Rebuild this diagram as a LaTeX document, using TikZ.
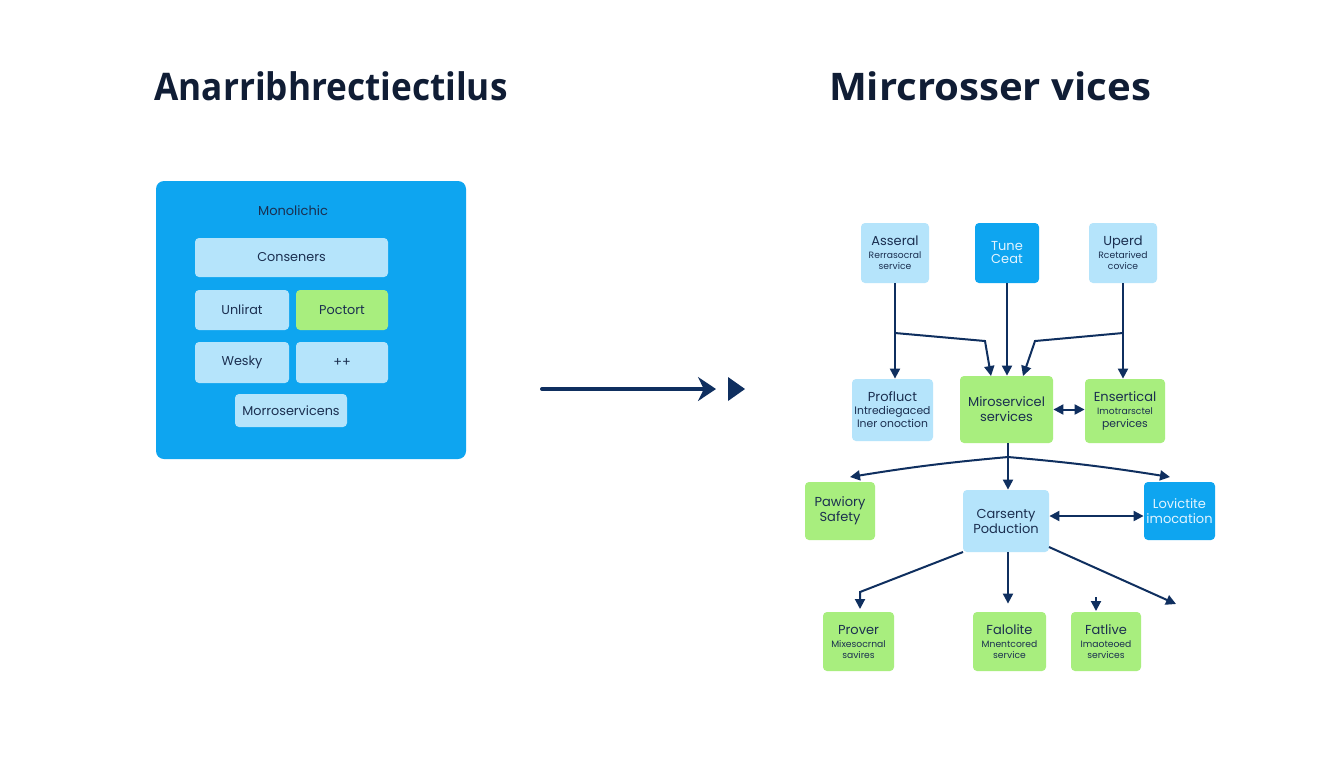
\documentclass[tikz,border=0pt]{standalone}
\usepackage{fontspec}
\setmainfont{Poppins}
\newfontfamily\titlefont{Open Sans}
\usetikzlibrary{arrows.meta}
\definecolor{bigblue}{HTML}{0EA5F0}
\definecolor{lightblue}{HTML}{B5E4FB}
\definecolor{lgreen}{HTML}{A8EE7E}
\definecolor{navy}{HTML}{0F2F5F}
\definecolor{txtdark}{HTML}{1B2F50}
\definecolor{titlecol}{HTML}{101D35}
\definecolor{paletxt}{HTML}{E2F4FF}
\newcommand\smtxt{\fontsize{4.6}{5.6}\selectfont}
\newcommand\mdtxt{\fontsize{5.4}{6.4}\selectfont}
\newcommand\lgtxt{\fontsize{6.4}{7.4}\selectfont}
\tikzset{
  boxbase/.style={rounded corners=2pt, inner sep=0pt, align=center, text=txtdark, font=\fontsize{6.5}{7.5}\selectfont},
  lbbox/.style={boxbase, fill=lightblue},
  grbox/.style={boxbase, fill=lgreen},
  bbbox/.style={boxbase, fill=bigblue, text=paletxt},
  conn/.style={draw=navy, line width=1pt, -{Triangle[width=5pt,length=5pt]}},
  dconn/.style={draw=navy, line width=1pt, {Triangle[width=5pt,length=5pt]}-{Triangle[width=5pt,length=5pt]}},
  plain/.style={draw=navy, line width=1pt},
  titletxt/.style={font=\titlefont\bfseries\fontsize{19}{22}\selectfont, text=titlecol, inner sep=0pt}
}
\begin{document}
\begin{tikzpicture}[x=0.5pt,y=-0.5pt]
\useasboundingbox[fill=white] (0,0) rectangle (1344,768);
% titles
\node[titletxt] (t1) at (331,86) {\scalebox{0.926}[1]{Anarribhrectiectilus}};
\node[titletxt] (t2) at (990,86) {\scalebox{1.056}[1]{Mircrosser vices}};
% left monolith
\node[fill=bigblue, rounded corners=4pt, minimum width=155pt, minimum height=139pt, inner sep=0pt] (big) at (311,320) {};
\node[text=txtdark, font=\fontsize{6.5}{7.5}\selectfont, inner sep=0pt] (mono) at (293,211) {Monolichic};
\node[lbbox, minimum width=96.5pt, minimum height=19.5pt] (cons) at (291.5,257.5) {\lgtxt Conseners};
\node[lbbox, minimum width=47pt, minimum height=20pt] (unl) at (242,310) {\lgtxt Unlirat};
\node[grbox, minimum width=46pt, minimum height=20pt] (poc) at (342,310) {\lgtxt Poctort};
\node[lbbox, minimum width=47pt, minimum height=20.5pt] (wes) at (242,362.5) {\lgtxt Wesky};
\node[lbbox, minimum width=46pt, minimum height=20.5pt] (pp) at (342,362.5) {\lgtxt ++};
\node[lbbox, minimum width=56pt, minimum height=16.5pt] (mor) at (291,410.5) {\lgtxt Morroservicens};
% big arrow
\coordinate (a1) at (542,389);
\coordinate (a2) at (716,389);
\draw[draw=navy, line width=2pt, line cap=round, -{Stealth[length=9pt,width=12pt]}] (a1) -- (a2);
\fill[navy] (728,377) -- (745,389) -- (728,401) -- cycle;
% right: top row
\node[lbbox, minimum width=34pt, minimum height=30pt] (ass) at (895,253) {Asseral\\[-1pt]{\smtxt Rerrasocral}\\[-2pt]{\smtxt service}};
\node[bbbox, minimum width=32pt, minimum height=30pt] (tune) at (1007,253) {Tune\\[-1pt]Ceat};
\node[lbbox, minimum width=34pt, minimum height=30pt] (upe) at (1123,253) {Uperd\\[-1pt]{\smtxt Rcetarived}\\[-2pt]{\smtxt covice}};
% middle row
\node[lbbox, minimum width=40.5pt, minimum height=31pt] (pro) at (892.5,410) {Profluct\\[-1pt]{\mdtxt Intrediegaced}\\[-1pt]{\mdtxt Iner onoction}};
\node[grbox, minimum width=46.5pt, minimum height=33.5pt] (mir) at (1006.5,409.5) {Miroservicel\\services};
\node[grbox, minimum width=40pt, minimum height=32pt] (ens) at (1125,411) {Ensertical\\[-1pt]{\smtxt Imotrarsctel}\\[-1pt]{\mdtxt pervices}};
% third row
\node[grbox, minimum width=35pt, minimum height=29pt] (paw) at (840,511) {Pawiory\\Safety};
\node[lbbox, minimum width=43pt, minimum height=31pt] (car) at (1006,521) {Carsenty\\Poduction};
\node[bbbox, minimum width=35.5pt, minimum height=29pt] (lov) at (1179.5,511) {Lovictite\\imocation};
% bottom row
\node[grbox, minimum width=35.5pt, minimum height=29.5pt] (prv) at (858.5,641.5) {Prover\\[-1pt]{\smtxt Mixesocrnal}\\[-2pt]{\smtxt savires}};
\node[grbox, minimum width=36.5pt, minimum height=29.5pt] (fal) at (1009.5,641.5) {Falolite\\[-1pt]{\smtxt Mnentcored}\\[-2pt]{\smtxt service}};
\node[grbox, minimum width=35pt, minimum height=29.5pt] (fat) at (1106,641.5) {Fatlive\\[-1pt]{\smtxt Imaoteoed}\\[-2pt]{\smtxt services}};
% coordinates
\coordinate (j1) at (895,333);
\coordinate (j1b) at (985,341);
\coordinate (m1) at (991,376);
\coordinate (j2) at (1123,333);
\coordinate (j2b) at (1035,341);
\coordinate (m2) at (1023,376);
\coordinate (j3) at (1008,457);
\coordinate (pl) at (850,477);
\coordinate (pr) at (1170,477);
\coordinate (c1) at (963,552);
\coordinate (c2) at (860,592);
\coordinate (c3) at (860,609);
\coordinate (s1) at (1096,597);
\coordinate (s2) at (1096,611);
\coordinate (r1) at (1049,547);
\coordinate (r2) at (1176,604);
% connectors top
\draw[conn] (ass.south) -- (ass.south |- pro.north);
\draw[conn] (j1) -- (j1b) -- (m1);
\draw[conn] (tune.south) -- (tune.south |- mir.north);
\draw[conn] (upe.south) -- (upe.south |- ens.north);
\draw[conn] (j2) -- (j2b) -- (m2);
\draw[dconn] (mir.east) -- (ens.west |- mir.east);
% connectors middle
\draw[plain] (mir.south -| j3) -- (j3);
\draw[conn] (j3) to[bend right=2] (pl);
\draw[conn] (j3) -- (j3 |- car.north);
\draw[conn] (j3) to[bend left=2] (pr);
\draw[dconn] ([yshift=2.5pt]car.east) -- ([yshift=2.5pt]car.east -| lov.west);
% connectors bottom
\draw[conn] (c1) -- (c2) -- (c3);
\draw[conn] (car.south -| j3) -- ([yshift=4pt]fal.north -| j3);
\draw[conn] (s1) -- (s2);
\draw[conn] (r1) -- (r2);
\end{tikzpicture}
\end{document}
